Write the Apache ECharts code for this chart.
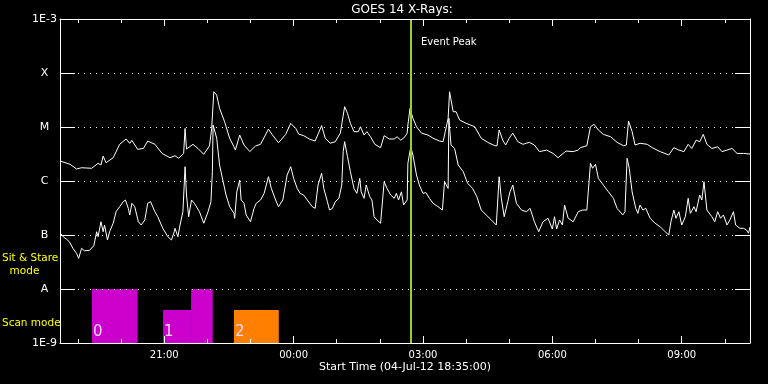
<!DOCTYPE html>
<html><head><meta charset="utf-8">
<script src="https://cdn.jsdelivr.net/npm/echarts@6/dist/echarts.min.js"></script>
<style>html,body{margin:0;padding:0;background:#000}#c{width:768px;height:384px}</style>
</head><body><div id="c"></div>
<script>
// time in minutes after start (04-Jul-12 18:35:00)
const longTimes = [0,14,23,30,44,53,57,60,64,74,83,92,97,100,108,116,122,132,142,153,160,165,172,174,176,185,192,200,208,211,214,218,222,229,236,242,
244,250,256,264,272,279,290,295,304,314,321,328,332,339,348,355,364,369,376,383,390,396,400,404,409,415,418,423,427,432,438,446,451,458,465,469,474,480,483,484,
487,491,496,503,512,519,528,533,536,540,542,547,551,556,565,571,577,586,595,605,608,611,616,620,625,630,637,644,653,660,667,677,686,693,700,704,714,721,
724,733,738,743,749,756,766,775,784,788,791,796,800,807,817,824,835,847,854,861,868,874,879,885,890,895,900,907,915,921,928,935,942,951,960];
const longFlux = [2.35e-6,2.04e-6,1.67e-6,1.76e-6,1.72e-6,2.13e-6,1.98e-6,2.9e-6,2.18e-6,2.7e-6,4.78e-6,6.0e-6,4.98e-6,5.66e-6,3.86e-6,4.0e-6,5.5e-6,4.78e-6,3.24e-6,2.7e-6,2.94e-6,2.63e-6,3.24e-6,9.4e-6,3.91e-6,4.78e-6,4.0e-6,3.12e-6,4.5e-6,9.4e-6,4.5e-5,3.9e-5,2.22e-5,1.25e-5,6.2e-6,4.3e-6,
3.74e-6,7.1e-6,4.64e-6,3.5e-6,4.45e-6,4.78e-6,9.1e-6,7.3e-6,5.1e-6,7.3e-6,1.17e-5,9.4e-6,7.4e-6,6.9e-6,5.9e-6,5.5e-6,1.06e-5,6.2e-6,5.0e-6,5.34e-6,7.7e-6,2.38e-5,1.79e-5,1.17e-5,8.2e-6,8.2e-6,1.01e-5,7.1e-6,8.2e-6,6.6e-6,4.78e-6,4.14e-6,6.9e-6,6.0e-6,6.0e-6,6.6e-6,5.7e-6,6.6e-6,7.7e-6,1.09e-5,
2.22e-5,1.45e-5,1.01e-5,7.7e-6,7.1e-6,6.2e-6,5.5e-6,5.34e-6,8.2e-6,1.45e-5,4.5e-5,1.92e-5,1.92e-5,1.35e-5,1.17e-5,1.09e-5,1.01e-5,6.2e-6,5.2e-6,4.5e-6,4.5e-6,8.8e-6,5.7e-6,4.64e-6,6.2e-6,7.7e-6,5.34e-6,4.78e-6,5.2e-6,4.64e-6,3.5e-6,3.74e-6,3.24e-6,2.7e-6,3.24e-6,3.59e-6,3.5e-6,3.74e-6,
4.14e-6,4.5e-6,1.01e-5,1.12e-5,8.8e-6,7.3e-6,6.6e-6,5.2e-6,4.5e-6,4.64e-6,1.29e-5,8.2e-6,4.64e-6,5.0e-6,4.78e-6,4.14e-6,3.5e-6,3.03e-6,4.14e-6,3.74e-6,3.5e-6,4.78e-6,4.0e-6,5.7e-6,5.34e-6,7.3e-6,4.78e-6,4.0e-6,4.3e-6,3.5e-6,3.74e-6,4.0e-6,3.24e-6,3.24e-6,3.16e-6];

const shortTimes = [0,2,6,9,13,18,23,26,30,34,41,47,51,53,57,60,62,66,69,74,78,83,88,91,95,97,100,104,109,113,118,122,126,132,136,143,150,155,159,160,164,167,171,174,176,179,183,187,194,200,206,210,212,213,218,222,227,231,236,242,
243,246,250,252,256,259,265,270,273,279,284,290,294,300,304,310,316,321,325,330,334,339,344,351,355,359,364,367,372,375,379,383,388,392,394,396,400,404,409,413,417,419,423,426,431,434,437,441,446,451,455,460,465,468,471,475,478,483,484,
488,491,496,500,505,509,514,519,526,532,535,537,540,541,544,549,554,561,567,574,580,586,593,600,607,611,614,618,623,626,630,635,642,649,654,660,666,672,679,685,688,691,695,699,702,707,714,721,727,
733,738,741,745,749,756,763,770,775,783,786,789,792,796,801,804,807,811,815,821,828,835,842,847,850,854,857,861,865,870,874,877,882,885,890,893,896,900,907,911,915,919,923,928,932,937,940,946,951,955,958,960];
const shortFlux = [1.09e-7,1.15e-7,8.9e-8,8.4e-8,7.5e-8,5.66e-8,4.57e-8,3.7e-8,5.66e-8,5.1e-8,5.2e-8,6.3e-8,1.15e-7,9.3e-8,1.76e-7,1.15e-7,1.53e-7,8.1e-8,1.15e-7,1.65e-7,2.7e-7,3.34e-7,4.14e-7,4.45e-7,3.12e-7,2.35e-7,3.86e-7,3.34e-7,1.76e-7,1.53e-7,1.9e-7,3.86e-7,4.14e-7,2.7e-7,2.18e-7,1.33e-7,9.3e-8,8.1e-8,1.15e-7,1.33e-7,9.3e-8,1.53e-7,2.7e-7,1.84e-6,5.5e-7,2.18e-7,4.45e-7,3.86e-7,2.7e-7,1.65e-7,2.7e-7,4.14e-7,1.49e-6,1.09e-5,6.2e-6,1.98e-6,9.7e-7,5.5e-7,3.34e-7,2.52e-7,
2.04e-7,6.3e-7,1.04e-6,4.45e-7,3.86e-7,2.35e-7,1.76e-7,3.12e-7,3.86e-7,4.45e-7,5.9e-7,1.2e-6,7.3e-7,4.45e-7,3.34e-7,4.45e-7,1.29e-6,1.84e-6,1.12e-6,7.3e-7,5.9e-7,5.5e-7,4.45e-7,3.34e-7,3.12e-7,8.4e-7,1.39e-6,7.3e-7,4.14e-7,2.9e-7,3.12e-7,4.14e-7,4.78e-7,8.4e-7,3.5e-6,5.34e-6,2.82e-6,1.49e-6,7.3e-7,5.9e-7,1.12e-6,6.3e-7,4.78e-7,8.4e-7,5.1e-7,4.45e-7,2.18e-7,1.9e-7,1.65e-7,9.7e-7,7.3e-7,5.5e-7,4.78e-7,5.9e-7,4.45e-7,6.3e-7,3.59e-7,4.45e-7,2.13e-6,
4.26e-6,3.03e-6,1.29e-6,8.4e-7,5.9e-7,6.1e-7,4.78e-7,3.86e-7,3.34e-7,2.9e-7,9.7e-7,1.04e-6,7.3e-7,1.45e-5,4.64e-6,4.0e-6,1.98e-6,1.49e-6,9.1e-7,7.3e-7,5.1e-7,2.9e-7,2.35e-7,1.9e-7,1.53e-7,1.2e-6,4.78e-7,2.18e-7,4.14e-7,6.3e-7,8.4e-7,3.86e-7,2.9e-7,2.7e-7,3.12e-7,1.76e-7,1.15e-7,1.76e-7,2.04e-7,1.29e-7,2.18e-7,1.29e-7,1.9e-7,1.53e-7,3.59e-7,2.04e-7,1.76e-7,2.7e-7,2.9e-7,
2.9e-7,2.13e-6,1.72e-6,2.04e-6,1.12e-6,8.4e-7,6.3e-7,4.78e-7,3.12e-7,2.35e-7,2.7e-7,2.63e-6,1.72e-6,6.3e-7,3.12e-7,2.52e-7,3.59e-7,2.9e-7,3.12e-7,2.04e-7,1.65e-7,1.42e-7,1.15e-7,1.0e-7,1.76e-7,2.9e-7,2.04e-7,2.7e-7,1.53e-7,2.18e-7,4.78e-7,2.52e-7,3.34e-7,2.7e-7,5.5e-7,4.45e-7,9.7e-7,2.9e-7,2.18e-7,1.76e-7,2.7e-7,2.04e-7,2.35e-7,1.53e-7,1.9e-7,2.7e-7,1.53e-7,1.33e-7,1.33e-7,1.24e-7,1.08e-7,1.42e-7];

const yTickLabels = ['1E-9','A','B','C','M','X','1E-3'];   // 1e-9 ... 1e-3
// tick positions, minutes after start
const majorFirst = 145, majorLast = 865, majorStep = 180;   // 21:00 ... 09:00
const minorFirst = 25,  minorLast = 925, minorStep = 60;    // 19:00 ... 10:00 hourly
const xLabels = ['21:00','00:00','03:00','06:00','09:00'];
const totalMinutes = 960;
const eventPeakTime = 488;
// instrument mode blocks
const modeStart = [44.5,143.4,182.4,242];
const modeEnd   = [108,182.4,212.5,304.4];
const modeLevel = [1e-8,4.1e-9,1e-8,4.1e-9];
const modeLabel = ['0','1','','2'];
const modeKind  = [0,0,0,1];

const modeColors = ['#cc00cc','#ff8000'];
const FONT = 'DejaVu Sans';
const white = '#ffffff';
const plotLeft = 60, plotRight = 750, plotTop = 19, plotBottom = 343, W = 768, H = 384;
const pxPerMin = (plotRight - plotLeft) / totalMinutes;
const gridFor = (a, b) => ({left: plotLeft + a*pxPerMin, right: W - (plotLeft + b*pxPerMin), top: plotTop, bottom: H - plotBottom});

const chart = echarts.init(document.getElementById('c'), null, {renderer:'canvas'});

function tickAxis(grid, pos, first, last, step, len, labels){
  const ax = {
    gridIndex:grid, type:'value', min:first, max:last, interval:step, position:pos, z:10,
    axisLine:{show:false, onZero:false},
    axisTick:{show:true, inside:true, length:len, lineStyle:{color:white,width:1}},
    axisLabel:{show:false},
    splitLine:{show:false}
  };
  if (labels) ax.axisLabel = {show:true, color:white, fontFamily:FONT, fontSize:10, margin:7,
     showMinLabel:true, showMaxLabel:true, formatter:v=>labels[Math.round((v-first)/step)]};
  return ax;
}
function mainX(pos, withName){
  const ax = {gridIndex:0, type:'value', min:0, max:totalMinutes, position:pos, z:10,
    axisLine:{show:true, onZero:false, lineStyle:{color:white,width:1}},
    axisTick:{show:false}, axisLabel:{show:false}, splitLine:{show:false}};
  if (withName){
    ax.name = 'Start Time (04-Jul-12 18:35:00)';
    ax.nameLocation = 'middle'; ax.nameGap = 19;
    ax.nameTextStyle = {color:white, fontFamily:FONT, fontSize:11};
  }
  return ax;
}
const hiddenY = g => ({gridIndex:g, type:'value', show:false, min:0, max:1});

const option = {
  backgroundColor:'#000',
  animation:false,
  grid:[gridFor(0,totalMinutes), gridFor(minorFirst,minorLast), gridFor(majorFirst,majorLast)],
  xAxis:[
    mainX('bottom', true), mainX('top', false),
    tickAxis(1,'bottom',minorFirst,minorLast,minorStep,4,null),
    tickAxis(1,'top',minorFirst,minorLast,minorStep,4,null),
    tickAxis(2,'bottom',majorFirst,majorLast,majorStep,7,xLabels),
    tickAxis(2,'top',majorFirst,majorLast,majorStep,7,null)
  ],
  yAxis:[
    {gridIndex:0, type:'log', logBase:10, min:1e-9, max:1e-3, position:'left', z:10,
     axisLine:{show:true,onZero:false,lineStyle:{color:white,width:1}},
     axisTick:{show:true,inside:true,length:15,lineStyle:{color:white,width:1}},
     axisLabel:{show:true,color:white,fontFamily:FONT,fontSize:11,align:'center',margin:15.5,
       formatter:v=>yTickLabels[Math.round(Math.log10(v))+9]},
     splitLine:{show:true,lineStyle:{color:white,width:1,type:[1,5]}},
     minorTick:{show:false}},
    {gridIndex:0, type:'log', logBase:10, min:1e-9, max:1e-3, position:'right', z:10,
     axisLine:{show:true,onZero:false,lineStyle:{color:white,width:1}},
     axisTick:{show:true,inside:true,length:15,lineStyle:{color:white,width:1}},
     axisLabel:{show:false}, splitLine:{show:false}},
    hiddenY(1), hiddenY(2)
  ],
  graphic:[
    {type:'text', style:{text:'GOES 14 X-Rays:', x:402, y:10, textAlign:'center', textVerticalAlign:'middle', fill:white, font:'12px "DejaVu Sans"'}},
    {type:'text', style:{text:'Event Peak', x:421, y:42.5, textAlign:'left', textVerticalAlign:'middle', fill:white, font:'10px "DejaVu Sans"'}},
    {type:'text', style:{text:'Sit & Stare', x:2, y:258.5, textAlign:'left', textVerticalAlign:'middle', fill:'#ffff00', font:'10.5px "DejaVu Sans"'}},
    {type:'text', style:{text:'mode', x:24.5, y:271, textAlign:'center', textVerticalAlign:'middle', fill:'#ffff00', font:'10.5px "DejaVu Sans"'}},
    {type:'text', style:{text:'Scan mode', x:2, y:323, textAlign:'left', textVerticalAlign:'middle', fill:'#ffff00', font:'10.5px "DejaVu Sans"'}}
  ],
  series:[
    {type:'custom', xAxisIndex:0, yAxisIndex:0, z:1,
     data: modeStart.map((s,i)=>[s, modeEnd[i], modeLevel[i], i]),
     renderItem:(params, api)=>{
       const i = api.value(3);
       const p0 = api.coord([api.value(0), api.value(2)]);
       const p1 = api.coord([api.value(1), 1e-9]);
       const children = [{type:'rect', shape:{x:p0[0], y:p0[1], width:p1[0]-p0[0], height:p1[1]-p0[1]},
         style:{fill:modeColors[modeKind[i]]}}];
       if (modeLabel[i]) children.push({type:'text', style:{text:modeLabel[i], x:p0[0]+1, y:p1[1]-3,
         textAlign:'left', textVerticalAlign:'bottom', fill:'#f4d8f4', font:'15px "DejaVu Sans"'}});
       return {type:'group', children};
     }},
    {type:'line', name:'long', xAxisIndex:0, yAxisIndex:0, z:3,
     data: longTimes.map((t,i)=>[t,longFlux[i]]), showSymbol:false, symbol:'none',
     lineStyle:{color:white,width:1}},
    {type:'line', name:'short', xAxisIndex:0, yAxisIndex:0, z:3,
     data: shortTimes.map((t,i)=>[t,shortFlux[i]]), showSymbol:false, symbol:'none',
     lineStyle:{color:white,width:1},
     markLine:{silent:true, symbol:['none','none'], label:{show:false},
       lineStyle:{color:'#9acd32',width:2,type:'solid'}, data:[{xAxis:eventPeakTime}]}}
  ]
};
chart.setOption(option);
</script>
</body></html>
